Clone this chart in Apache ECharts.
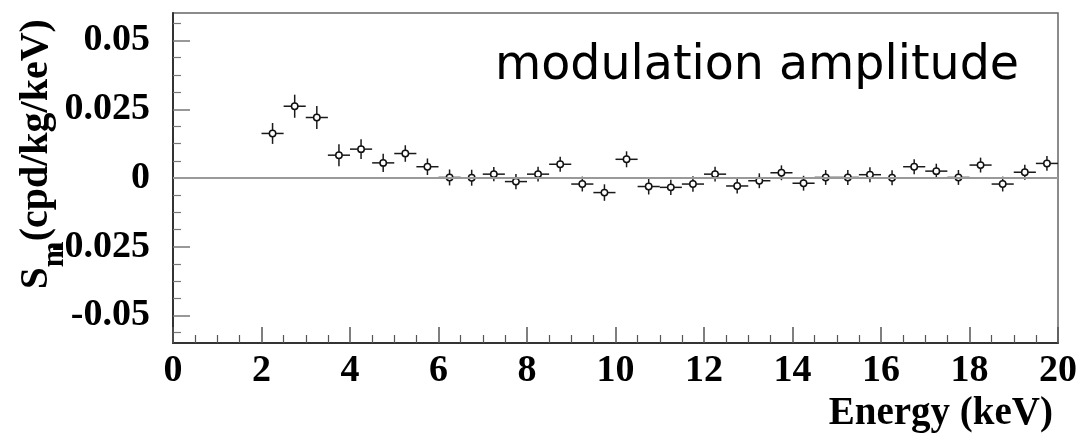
<!DOCTYPE html>
<html>
<head>
<meta charset="utf-8">
<script src="https://cdn.jsdelivr.net/npm/echarts@6/dist/echarts.min.js"></script>
<style>html,body{margin:0;padding:0;background:#fff;}#c{width:1080px;height:433px;}</style>
</head>
<body>
<div id="c"></div>
<script>
// ---- data ----
const energy = [2.25, 2.75, 3.25, 3.75, 4.25, 4.75, 5.25, 5.75, 6.25, 6.75,
  7.25, 7.75, 8.25, 8.75, 9.25, 9.75, 10.25, 10.75, 11.25, 11.75,
  12.25, 12.75, 13.25, 13.75, 14.25, 14.75, 15.25, 15.75, 16.25, 16.75,
  17.25, 17.75, 18.25, 18.75, 19.25, 19.75];
const sm = [0.0162, 0.0261, 0.0220, 0.0083, 0.0105, 0.0055, 0.0089, 0.0041, 0.0002, 0.0001,
  0.0014, -0.0013, 0.0014, 0.0050, -0.0022, -0.0053, 0.0068, -0.0031, -0.0034, -0.0022,
  0.0014, -0.0029, -0.0010, 0.0019, -0.0019, 0.0002, 0.0002, 0.0012, 0.0001, 0.0041,
  0.0025, 0.0002, 0.0047, -0.0022, 0.0021, 0.0053];
const smErr = [0.0038, 0.0042, 0.0042, 0.0040, 0.0036, 0.0033, 0.0030, 0.0030, 0.0029, 0.0029,
  0.0026, 0.0028, 0.0027, 0.0027, 0.0027, 0.0030, 0.0029, 0.0029, 0.0028, 0.0028,
  0.0027, 0.0027, 0.0027, 0.0027, 0.0027, 0.0027, 0.0027, 0.0027, 0.0027, 0.0027,
  0.0027, 0.0027, 0.0027, 0.0027, 0.0027, 0.0027];
const binWidth = 0.5;
const yMajorTicks = [-0.05, -0.025, 0, 0.025, 0.05];
const yTickLabels = ['-0.05', '-0.025', '0', '0.025', '0.05'];
const yMinorTicks = [-0.05625, -0.04375, -0.0375, -0.03125, -0.01875, -0.0125, -0.00625,
  0.00625, 0.0125, 0.01875, 0.03125, 0.0375, 0.04375, 0.05625];
const titleText = 'modulation amplitude';
const xName = 'Energy (keV)';

const serif = '"Liberation Serif", "Times New Roman", serif';
const chart = echarts.init(document.getElementById('c'), null, {renderer: 'canvas'});

const seriesData = energy.map((e, i) => [e, sm[i], smErr[i]]);

function renderItem(params, api) {
  const x = api.value(0), y = api.value(1), err = api.value(2);
  const c = api.coord([x, y]);
  const l = api.coord([x - binWidth / 2, y]);
  const r = api.coord([x + binWidth / 2, y]);
  const t = api.coord([x, y + err]);
  const b = api.coord([x, y - err]);
  const ls = {stroke: '#1a1a1a', lineWidth: 1.5};
  return {
    type: 'group',
    children: [
      {type: 'line', shape: {x1: l[0], y1: l[1], x2: r[0], y2: r[1]}, style: ls},
      {type: 'line', shape: {x1: t[0], y1: t[1], x2: b[0], y2: b[1]}, style: ls},
      {type: 'circle', shape: {cx: c[0], cy: c[1], r: 3.2}, style: {fill: '#fff', stroke: '#111', lineWidth: 1.5}}
    ]
  };
}

const yLabelMap = {};
yMajorTicks.forEach((v, i) => { yLabelMap[v.toFixed(5)] = yTickLabels[i]; });

chart.setOption({
  animation: false,
  backgroundColor: '#fff',
  grid: {left: 173, right: 22, top: 13, bottom: 90, show: true, borderColor: '#666', borderWidth: 1.5, backgroundColor: 'transparent'},
  xAxis: {
    type: 'value', min: 0, max: 20, interval: 2,
    axisLine: {show: true, onZero: false, lineStyle: {color: '#333', width: 2}},
    axisTick: {show: true, inside: true, length: 16, lineStyle: {color: '#555', width: 1.5}},
    minorTick: {show: true, splitNumber: 4, length: 8, lineStyle: {color: '#555', width: 1.2}},
    splitLine: {show: false},
    axisLabel: {margin: 9, fontFamily: serif, fontWeight: 'bold', fontSize: 38, color: '#000'}
  },
  yAxis: [{
    type: 'value', min: -0.06, max: 0.06,
    axisLine: {show: true, onZero: false, lineStyle: {color: '#333', width: 2}},
    axisTick: {show: true, inside: true, length: 17, customValues: yMajorTicks, lineStyle: {color: '#777', width: 1.5}},
    splitLine: {show: false},
    axisLabel: {show: true, margin: 23, customValues: yMajorTicks, fontFamily: serif, fontWeight: 'bold', fontSize: 38, color: '#000',
      formatter: v => yLabelMap[Number(v).toFixed(5)] ?? String(v)}
  }, {
    type: 'value', min: -0.06, max: 0.06, position: 'left',
    axisLine: {show: false},
    axisTick: {show: true, inside: true, length: 8, customValues: yMinorTicks, lineStyle: {color: '#777', width: 1.2}},
    splitLine: {show: false},
    axisLabel: {show: false}
  }],
  graphic: [
    {type: 'text', left: 495, top: 43, z: 10,
      style: {text: titleText, fontFamily: '"DejaVu Sans", Verdana, sans-serif', fontSize: 47.5, fill: '#000'}},
    {type: 'text', right: 27, top: 394, z: 10,
      style: {text: xName, fontFamily: serif, fontWeight: 'bold', fontSize: 39, fill: '#000'}},
    {type: 'text', x: 37, y: 154, rotation: Math.PI / 2, z: 10,
      style: {
        text: '{s|S}{m|m}{u|(cpd/kg/keV)}',
        align: 'center', verticalAlign: 'middle',
        fontFamily: serif, fontWeight: 'bold', fontSize: 40, fill: '#000',
        rich: {
          s: {fontFamily: serif, fontWeight: 'bold', fontSize: 39, lineHeight: 40, verticalAlign: 'top'},
          m: {fontFamily: serif, fontWeight: 'bold', fontSize: 31, lineHeight: 31, padding: [22, 0, 0, 0], verticalAlign: 'top'},
          u: {fontFamily: serif, fontWeight: 'bold', fontSize: 40, lineHeight: 40, verticalAlign: 'top'}
        }
      }}
  ],
  series: [{
    type: 'custom',
    renderItem: renderItem,
    data: seriesData,
    encode: {x: 0, y: 1},
    clip: false,
    z: 3,
    markLine: {
      silent: true, symbol: 'none', label: {show: false},
      lineStyle: {color: '#999', width: 2, type: 'solid'},
      data: [{yAxis: 0}]
    }
  }]
});
</script>
</body>
</html>
